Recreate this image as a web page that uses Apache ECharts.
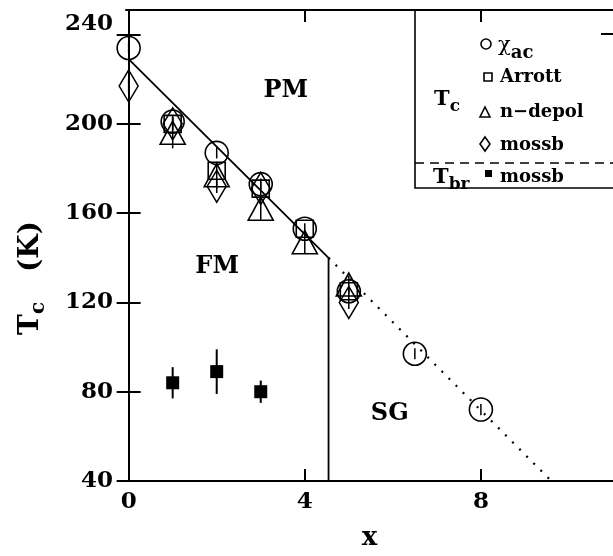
<!DOCTYPE html>
<html>
<head>
<meta charset="utf-8">
<script src="https://cdn.jsdelivr.net/npm/echarts@6/dist/echarts.min.js"></script>
<style>html,body{margin:0;padding:0;background:#fff}#c{width:613px;height:556px}</style>
</head>
<body>
<div id="c"></div>
<script>
// ---- data ----
const xTicks = [0, 4, 8];
const yTicks = [40, 80, 120, 160, 200, 240];

const chiX = [0, 1, 2, 3, 4, 5, 6.5, 8];
const chiY = [234, 201, 187, 173, 153, 125, 97, 72];
const chiErr = [2.5, 2.5, 2.5, 2.5, 2.5, 2.5, 2.5, 2.5];
const arrottX = [1, 2, 3, 4, 5];
const arrottY = [200, 179, 171, 153, 125];
const ndepolX = [1, 2, 3, 4, 5];
const ndepolY = [196, 177, 162, 147, 128];
const ndepolErr = [7, 6, 5, 5, 4];
const mossbX = [0, 1, 2, 3, 5];
const mossbY = [217, 200, 172, 171, 120];
const mossbErr = [3, 3, 3, 3, 3];
const tbrX = [1, 2, 3];
const tbrY = [84, 89, 80];
const tbrErr = [7, 10, 5];

const boundaryX = [0, 4.54, 4.54];
const boundaryY = [229, 140, 40];
const sgLineX = [4.54, 9.6];
const sgLineY = [140, 40];

const regionNames = ['PM', 'FM', 'SG'];
const regionX = [3.57, 2.01, 5.93];
const regionY = [215, 136, 70];

const zip = (xs, ys) => xs.map((x, i) => [x, ys[i]]);
const FONT = '"DejaVu Serif", serif';

const chart = echarts.init(document.getElementById('c'), null, {renderer: 'canvas'});

const axisLine = {show: true, lineStyle: {color: '#000', width: 2}};
const tickStyle = {show: true, inside: true, length: 12, lineStyle: {color: '#000', width: 2}};
const emptyStyle = {color: 'rgba(0,0,0,0)', borderColor: '#000', borderWidth: 1.6, opacity: 1};

function errSeries(xs, ys, es, w) {
  return {
    type: 'custom', z: 4,
    data: xs.map((x, i) => [x, ys[i] - es[i], ys[i] + es[i]]),
    renderItem: function (params, api) {
      const p1 = api.coord([api.value(0), api.value(1)]);
      const p2 = api.coord([api.value(0), api.value(2)]);
      return {type: 'line', shape: {x1: p1[0], y1: p1[1], x2: p2[0], y2: p2[1]}, style: {stroke: '#000', lineWidth: w}};
    }
  };
}

const labelFont = {color: '#000', fontFamily: FONT, fontWeight: 'bold', fontSize: 23};

chart.setOption({
  animation: false,
  backgroundColor: '#fff',
  grid: {left: 126, top: 10, width: 487, height: 477, containLabel: false},
  xAxis: [{
    type: 'value', min: -0.06, max: 11, position: 'bottom',
    axisLine: axisLine,
    axisTick: Object.assign({}, tickStyle, {customValues: xTicks}),
    axisLabel: Object.assign({customValues: xTicks, margin: 10}, labelFont),
    splitLine: {show: false},
    name: 'x', nameLocation: 'middle', nameGap: 44,
    nameTextStyle: {color: '#000', fontFamily: FONT, fontWeight: 'bold', fontSize: 26}
  }, {
    type: 'value', min: -0.06, max: 11, position: 'top',
    axisLine: axisLine,
    axisTick: Object.assign({}, tickStyle, {customValues: xTicks}),
    axisLabel: {show: false},
    splitLine: {show: false}, z: 120
  }],
  yAxis: [{
    type: 'value', min: 40, max: 251, position: 'left',
    axisLine: axisLine,
    axisTick: Object.assign({}, tickStyle, {customValues: yTicks}),
    axisLabel: Object.assign({
      customValues: yTicks, margin: 13,
      formatter: function (v) { return v === 240 ? '{hi|' + v + '}' : '{n|' + v + '}'; },
      rich: {
        hi: Object.assign({padding: [0, 0, 22, 0]}, labelFont),
        n: Object.assign({}, labelFont)
      }
    }, labelFont),
    splitLine: {show: false}
  }, {
    type: 'value', min: 40, max: 251, position: 'right',
    axisLine: axisLine,
    axisTick: Object.assign({}, tickStyle, {customValues: yTicks}),
    axisLabel: {show: false},
    splitLine: {show: false}
  }],
  series: [
    {
      type: 'line', data: zip(boundaryX, boundaryY), symbol: 'none',
      lineStyle: {color: '#000', width: 1.8}, z: 2
    },
    {
      type: 'line', data: zip(sgLineX, sgLineY), symbol: 'none',
      lineStyle: {color: '#000', width: 2.2, type: [2, 8]}, z: 2
    },
    {
      name: 'chi', type: 'scatter', data: zip(chiX, chiY), symbol: 'circle', symbolSize: 23,
      itemStyle: emptyStyle, z: 3
    },
    {
      name: 'Arrott', type: 'scatter', data: zip(arrottX, arrottY), symbol: 'rect', symbolSize: 17,
      itemStyle: emptyStyle, z: 3
    },
    {
      name: 'n-depol', type: 'scatter', data: zip(ndepolX, ndepolY), symbol: 'triangle', symbolSize: [25, 23],
      itemStyle: emptyStyle, z: 3
    },
    {
      name: 'mossb', type: 'scatter', data: zip(mossbX, mossbY), symbol: 'diamond', symbolSize: [19, 32],
      itemStyle: emptyStyle, z: 3
    },
    errSeries(chiX, chiY, chiErr, 1.5),
    errSeries(ndepolX, ndepolY, ndepolErr, 1.5),
    errSeries(mossbX, mossbY, mossbErr, 1.5),
    {
      name: 'Tbr', type: 'scatter', data: zip(tbrX, tbrY), symbol: 'rect', symbolSize: 13,
      itemStyle: {color: '#000', opacity: 1}, z: 4
    },
    errSeries(tbrX, tbrY, tbrErr, 2),
    {
      type: 'scatter', symbolSize: 0, z: 5, itemStyle: {opacity: 1},
      data: regionNames.map((n, i) => ({name: n, value: [regionX[i], regionY[i]]})),
      label: {show: true, position: 'inside', formatter: '{b}', color: '#000', fontFamily: FONT, fontWeight: 'bold', fontSize: 24, opacity: 1}
    }
  ],
  graphic: [
    {type: 'text', x: 31, y: 278, rotation: Math.PI / 2, style: {
      text: '{t|T}{s|c}{g|}{t|(K)}', align: 'center', verticalAlign: 'middle', fill: '#000',
      rich: {
        t: {fontFamily: FONT, fontWeight: 'bold', fontSize: 28, fill: '#000'},
        s: {fontFamily: FONT, fontWeight: 'bold', fontSize: 20, fill: '#000', padding: [16, 0, 0, 0]},
        g: {width: 30}
      }}},
    {type: 'rect', z: 100, shape: {x: 415, y: 10, width: 210, height: 178}, style: {fill: '#fff', stroke: '#000', lineWidth: 1.6}},
    {type: 'line', z: 101, shape: {x1: 415, y1: 163, x2: 613, y2: 163}, style: {stroke: '#000', lineWidth: 1.6, lineDash: [9, 6]}},
    {type: 'line', z: 101, shape: {x1: 601, y1: 34, x2: 613, y2: 34}, style: {stroke: '#000', lineWidth: 2}},
    {type: 'circle', z: 101, shape: {cx: 486, cy: 44, r: 5}, style: {fill: 'none', stroke: '#000', lineWidth: 1.6}},
    {type: 'rect', z: 101, shape: {x: 484, y: 73, width: 8, height: 8}, style: {fill: 'none', stroke: '#000', lineWidth: 1.6}},
    {type: 'polygon', z: 101, shape: {points: [[480, 117], [490, 117], [485, 107]]}, style: {fill: 'none', stroke: '#000', lineWidth: 1.6}},
    {type: 'polygon', z: 101, shape: {points: [[485, 137], [490, 144], [485, 151], [480, 144]]}, style: {fill: 'none', stroke: '#000', lineWidth: 1.6}},
    {type: 'rect', z: 101, shape: {x: 485, y: 170, width: 7, height: 7}, style: {fill: '#000'}},
    {type: 'text', z: 101, x: 498, y: 46, style: {
      text: '{g|χ}{s|ac}', verticalAlign: 'middle', fill: '#000',
      rich: {
        g: {fontFamily: FONT, fontSize: 21, fill: '#000'},
        s: {fontFamily: FONT, fontWeight: 'bold', fontSize: 18, fill: '#000', padding: [14, 0, 0, 0]}
      }}},
    {type: 'text', z: 101, x: 500, y: 77, style: {text: 'Arrott', fill: '#000', font: 'bold 18px ' + FONT, verticalAlign: 'middle'}},
    {type: 'text', z: 101, x: 500, y: 112, style: {text: 'n\u2212depol', fill: '#000', font: 'bold 18px ' + FONT, verticalAlign: 'middle'}},
    {type: 'text', z: 101, x: 500, y: 145, style: {text: 'mossb', fill: '#000', font: 'bold 18px ' + FONT, verticalAlign: 'middle'}},
    {type: 'text', z: 101, x: 500, y: 177, style: {text: 'mossb', fill: '#000', font: 'bold 18px ' + FONT, verticalAlign: 'middle'}},
    {type: 'text', z: 101, x: 434, y: 100, style: {
      text: '{t|T}{s|c}', verticalAlign: 'middle', fill: '#000',
      rich: {
        t: {fontFamily: FONT, fontWeight: 'bold', fontSize: 21, fill: '#000'},
        s: {fontFamily: FONT, fontWeight: 'bold', fontSize: 17, fill: '#000', padding: [14, 0, 0, 0]}
      }}},
    {type: 'text', z: 101, x: 433, y: 178, style: {
      text: '{t|T}{s|br}', verticalAlign: 'middle', fill: '#000',
      rich: {
        t: {fontFamily: FONT, fontWeight: 'bold', fontSize: 21, fill: '#000'},
        s: {fontFamily: FONT, fontWeight: 'bold', fontSize: 17, fill: '#000', padding: [14, 0, 0, 0]}
      }}}
  ]
});
</script>
</body>
</html>
